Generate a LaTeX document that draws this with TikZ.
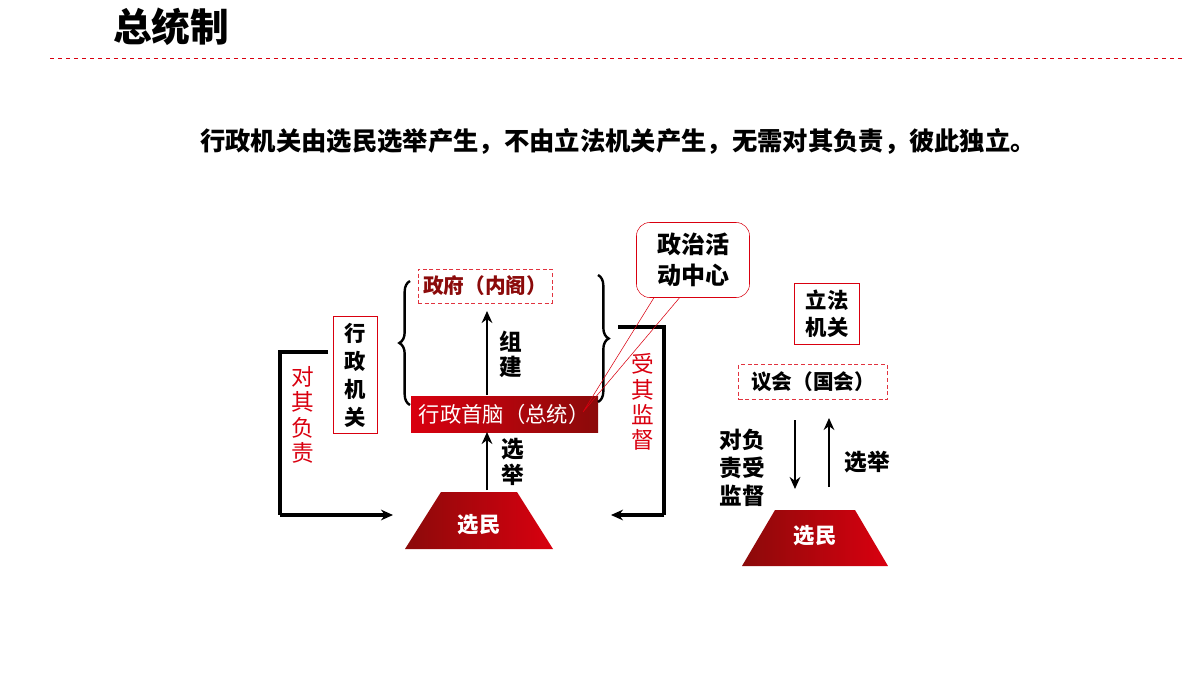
\documentclass[tikz,border=0pt]{standalone}
\usepackage{fontspec}
\setmainfont{Noto Sans CJK SC}
\usetikzlibrary{decorations.pathreplacing,arrows.meta}
\definecolor{rd}{HTML}{D9000F}
\definecolor{drd}{HTML}{8B0A0A}
\begin{document}
\begin{tikzpicture}[x=0.75pt,y=-0.75pt,
  lbl/.style={font=\fontsize{17}{19}\selectfont\bfseries,align=center},
  rlbl/.style={font=\fontsize{17}{19}\selectfont,text=rd,align=center},
  arr/.style={line width=2.2pt,-{Stealth[length=9pt,width=8pt]}},
  frame/.style={line width=3pt},
  dbox/.style={draw=rd!80,densely dashed,thin,font=\fontsize{15.5}{18}\selectfont\bfseries},
  trap/.style={left color=drd,right color=rd,draw=none}]
\useasboundingbox (0,0) rectangle (1200,675);
\node[font=\fontsize{29}{32}\selectfont\bfseries] (title) at (171,27) {总统制};
\draw[rd,dashed,thin] (50,58) -- (1185,58);
\node[font=\fontsize{19}{22}\selectfont\bfseries] (sub) at (618,141) {行政机关由选民选举产生，不由立法机关产生，无需对其负责，彼此独立。};
% left structure
\node[dbox,text=drd,minimum width=134*0.75pt,minimum height=34*0.75pt] (gov) at (485,286) {政府（内阁）};
\shade[left color=rd,right color=drd] (411,396) rectangle (598,432);
\node[font=\fontsize{16}{18}\selectfont,text=white] (head) at (504,414) {行政首脑（总统）};
\path[trap] (405,549) -- (441,492) -- (517,492) -- (553,549) -- cycle;
\node[font=\fontsize{16}{18}\selectfont\bfseries,text=white] (v1) at (479,525) {选民};
\coordinate (vt) at (487,490);
\coordinate (ht) at (487,432);
\coordinate (hb) at (487,395);
\coordinate (gb) at (487,311);
\draw[arr] (vt) -- (ht);
\draw[arr] (hb) -- (gb);
\node[lbl] (zj) at (511,354) {组\\建};
\node[lbl] (xj) at (513,462) {选\\举};
\draw[decorate,decoration={brace,amplitude=8pt},line width=1.8pt] (410,405) -- (410,281);
\draw[decorate,decoration={brace,amplitude=8pt},line width=1.8pt] (598,275) -- (598,402);
\node[draw=rd,thin,font=\fontsize{16}{21}\selectfont\bfseries,align=center,inner sep=4pt,minimum width=44*0.75pt,minimum height=117*0.75pt] (xz) at (355,375) {行\\政\\机\\关};
\coordinate (l1) at (328,352);
\coordinate (l2) at (280,352);
\coordinate (l3) at (280,515);
\coordinate (l4) at (393,515);
\draw[frame] (l1) -- (l2) -- (l3);
\draw[arr,line width=2.6pt] (l3) -- (l4);
\node[rlbl] (dq) at (303,415) {对\\其\\负\\责};
\coordinate (r1) at (618,327);
\coordinate (r2) at (664,327);
\coordinate (r3) at (664,515);
\coordinate (r4) at (611,515);
\draw[frame] (r1) -- (r2) -- (r3);
\draw[arr,line width=2.6pt] (r3) -- (r4);
\node[rlbl] (sq) at (643,402) {受\\其\\监\\督};
% callout
\draw[rd,thin] (655,296) -- (583,412) -- (681,296);
\node[draw=rd,thin,rounded corners=10pt,fill=white,minimum width=113*0.75pt,minimum height=75*0.75pt,font=\fontsize{18}{23}\selectfont\bfseries,align=center] (cen) at (693,260) {政治活\\动中心};
% right structure
\node[draw=rd,thin,minimum width=65*0.75pt,minimum height=61*0.75pt,font=\fontsize{16}{20}\selectfont\bfseries,align=center] (lf) at (827,314) {立法\\机关};
\node[dbox,minimum width=149*0.75pt,minimum height=35*0.75pt] (par) at (813,382) {议会（国会）};
\path[trap] (742,566) -- (775,510) -- (855,510) -- (888,566) -- cycle;
\node[font=\fontsize{16}{18}\selectfont\bfseries,text=white] (v2) at (815,536) {选民};
\coordinate (a1) at (795,420);
\coordinate (a2) at (795,489);
\coordinate (b1) at (829,487);
\coordinate (b2) at (829,418);
\draw[arr] (a1) -- (a2);
\draw[arr] (b1) -- (b2);
\node[font=\fontsize{17}{21}\selectfont\bfseries,align=center] (dfz) at (742,468) {对负\\责受\\监督};
\node[lbl] (xj2) at (867,462) {选举};
\end{tikzpicture}
\end{document}
